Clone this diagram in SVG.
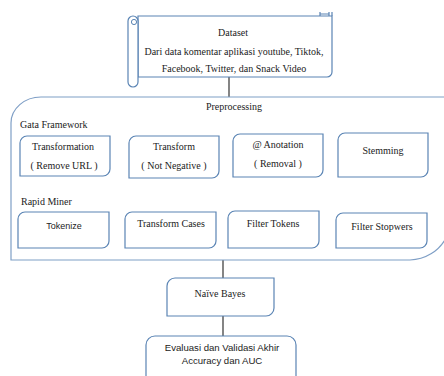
<svg xmlns="http://www.w3.org/2000/svg" width="444" height="376" viewBox="0 0 444 376">
<style>
.t{font-family:"Liberation Serif","Times New Roman",serif;font-size:10px;fill:#222}
.s{font-family:"Liberation Sans",Arial,sans-serif;font-size:9px;fill:#222}
.m{text-anchor:middle}
.b{fill:#fff;stroke:#5a84b4;stroke-width:1.2}
.c{fill:none;stroke:#7f9fc6;stroke-width:1.2}
.l{stroke:#333;stroke-width:1.2;fill:none}
</style>
<rect width="444" height="376" fill="#fff"/>
<g id="connectors">
<line class="l" x1="229" y1="77" x2="229" y2="97"/>
<line class="l" x1="223" y1="260" x2="223" y2="278"/>
<line class="l" x1="223" y1="316" x2="223" y2="336"/>
</g>
<g id="dataset">
<path class="b" d="M138,16 H332 V72 A5,5 0 0 1 327,77 H138 Z"/>
<path class="b" d="M128,21 V82 A5,5 0 0 0 138,82 V21 A5,5 0 0 0 128,21 Z"/>
<circle cx="134" cy="22" r="2.6" fill="none" stroke="#5a84b4" stroke-width="1"/>
<path fill="none" stroke="#5a84b4" stroke-width="1.2" d="M320,16 V12 M329,16 V12 M320,14 H329 M332,16 V12"/>
<text class="t m" x="233" y="36">Dataset</text>
<text class="t m" x="234" y="55">Dari data komentar aplikasi youtube, Tiktok,</text>
<text class="t m" x="234" y="72">Facebook, Twitter, dan Snack Video</text>
</g>
<g id="preprocessing">
<path class="c" d="M446,97 H41 A30,26 0 0 0 11,123 V260 H410 A42,42 0 0 0 446,238"/>
<text class="t m" x="234" y="110">Preprocessing</text>
<text class="t" x="20" y="128">Gata Framework</text>
<text class="t" x="21" y="205">Rapid Miner</text>
</g>
<g id="transformation">
<path class="b" d="M27,136 H110 V169 A7,7 0 0 1 103,176 H20 V143 A7,7 0 0 1 27,136 Z"/>
<text class="t m" x="63" y="150">Transformation</text>
<text class="t m" x="64" y="169">( Remove URL )</text>
</g>
<g id="transform">
<path class="b" d="M136,136 H219 V171 A7,7 0 0 1 212,178 H129 V143 A7,7 0 0 1 136,136 Z"/>
<text class="t m" x="174" y="150">Transform</text>
<text class="t m" x="174" y="169">( Not Negative )</text>
</g>
<g id="anotation">
<path class="b" d="M240,134 H323 V170 A7,7 0 0 1 316,177 H233 V141 A7,7 0 0 1 240,134 Z"/>
<text class="t m" x="278" y="148">@ Anotation</text>
<text class="t m" x="278" y="167">( Removal )</text>
</g>
<g id="stemming">
<path class="b" d="M345,133 H428 V170 A7,7 0 0 1 421,177 H338 V140 A7,7 0 0 1 345,133 Z"/>
<text class="t m" x="383" y="154">Stemming</text>
</g>
<g id="tokenize">
<path class="b" d="M25,212 H109 V241 A7,7 0 0 1 102,248 H18 V219 A7,7 0 0 1 25,212 Z"/>
<text class="s m" x="64" y="229">Tokenize</text>
</g>
<g id="transformcases">
<path class="b" d="M132,212 H216 V241 A7,7 0 0 1 209,248 H125 V219 A7,7 0 0 1 132,212 Z"/>
<text class="t m" x="171" y="227">Transform Cases</text>
</g>
<g id="filtertokens">
<path class="b" d="M235,211 H319 V241 A7,7 0 0 1 312,248 H228 V218 A7,7 0 0 1 235,211 Z"/>
<text class="t m" x="273" y="227">Filter Tokens</text>
</g>
<g id="filterstopwers">
<path class="b" d="M343,213 H427 V241 A7,7 0 0 1 420,248 H336 V220 A7,7 0 0 1 343,213 Z"/>
<text class="t m" x="382" y="230">Filter Stopwers</text>
</g>
<g id="naivebayes">
<path class="b" d="M175,278 H274 V308 A8,8 0 0 1 266,316 H167 V286 A8,8 0 0 1 175,278 Z"/>
<text class="t m" x="220" y="297">Naïve Bayes</text>
</g>
<g id="evaluasi">
<path class="b" d="M146,380 V345 A9,9 0 0 1 155,336 H287 A9,9 0 0 1 296,345 V380"/>
<text class="s m" x="222" y="351" style="font-size:9.6px">Evaluasi dan Validasi Akhir</text>
<text class="s m" x="222" y="364" style="font-size:9.6px">Accuracy dan AUC</text>
</g>
</svg>
